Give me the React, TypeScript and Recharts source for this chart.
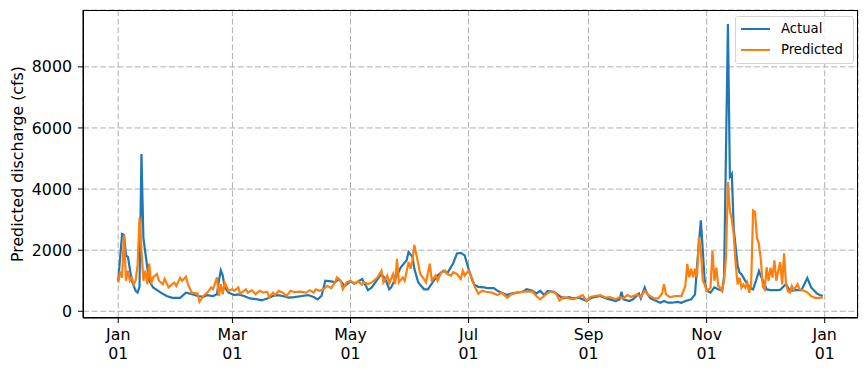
import { LineChart, Line, XAxis, YAxis, CartesianGrid } from "recharts";

// [day of year (0 = Jan 01), discharge in cfs]
const actualSeries: [number, number][] = [
  [0, 1000], [2, 2530], [3, 2500], [4, 1830], [5, 1780], [7, 1000], [9, 670], [10, 610],
  [11, 800], [12, 5150], [13, 2400], [15, 1440], [16, 1000], [18, 780], [22, 610], [25, 500],
  [28, 440], [32, 440], [35, 610], [37, 580], [41, 500], [44, 470], [46, 530], [49, 500],
  [51, 555], [52, 1000], [53, 1340], [54, 1170], [55, 780], [57, 610], [60, 530], [62, 555],
  [65, 500], [68, 420], [72, 390], [74, 355], [77, 420], [80, 500], [82, 530], [85, 500],
  [88, 445], [91, 465], [95, 500], [98, 530], [101, 465], [103, 390], [105, 500], [107, 1000],
  [110, 980], [112, 945], [114, 1055], [117, 830], [120, 980], [122, 900], [126, 1055], [128, 830],
  [129, 690], [131, 780], [134, 1055], [136, 1220], [138, 1055], [140, 720], [141, 780], [144, 1170],
  [146, 1440], [149, 1670], [150, 1940], [152, 1780], [153, 1390], [155, 945], [158, 720], [160, 720],
  [163, 1000], [165, 1170], [168, 1330], [170, 1240], [173, 1560], [175, 1890], [177, 1910], [179, 1830],
  [181, 1390], [183, 1000], [184, 870], [186, 800], [189, 780], [191, 755], [194, 755], [196, 670],
  [198, 610], [201, 530], [203, 580], [206, 610], [209, 640], [211, 720], [214, 670], [216, 580],
  [218, 670], [220, 530], [222, 670], [225, 640], [228, 500], [230, 420], [233, 465], [235, 420],
  [238, 445], [240, 390], [242, 335], [244, 420], [246, 465], [249, 500], [252, 420], [254, 390],
  [257, 335], [259, 390], [260, 640], [261, 390], [264, 335], [266, 390], [269, 580], [270, 420],
  [272, 780], [273, 610], [275, 420], [278, 335], [280, 280], [282, 335], [284, 280], [286, 280],
  [289, 310], [291, 280], [293, 335], [296, 390], [298, 555], [299, 1440], [301, 2980], [302, 2000],
  [303, 1000], [304, 670], [306, 610], [308, 780], [310, 720], [312, 670], [313, 1150], [315, 9400],
  [316, 4400], [317, 4500], [318, 2700], [320, 1500], [321, 1265], [322, 1210], [323, 1100], [325, 880],
  [327, 750], [328, 715], [330, 1100], [331, 1320], [332, 1150], [334, 880], [335, 715], [337, 690],
  [340, 690], [342, 700], [345, 890], [347, 670], [350, 690], [353, 690], [356, 1090], [358, 780],
  [361, 580], [363, 520], [364, 500],
];

const predictedSeries: [number, number][] = [
  [0, 940], [1, 1300], [2, 1100], [3, 2500], [4, 1000], [5, 1330], [6, 1000], [7, 1110],
  [8, 890], [9, 1000], [10, 1500], [11, 3060], [12, 2000], [13, 1000], [14, 1330], [15, 890],
  [16, 1560], [17, 890], [18, 1110], [20, 1220], [21, 1000], [23, 890], [24, 1060], [26, 780],
  [28, 890], [29, 940], [30, 830], [32, 1090], [33, 1000], [35, 1130], [36, 890], [38, 610],
  [41, 580], [42, 310], [44, 500], [46, 610], [48, 780], [49, 720], [51, 1110], [52, 500],
  [53, 890], [54, 555], [55, 940], [57, 670], [59, 720], [60, 670], [62, 780], [63, 580],
  [66, 720], [67, 610], [69, 690], [71, 555], [73, 670], [75, 610], [77, 640], [78, 465],
  [80, 610], [81, 530], [83, 670], [85, 610], [87, 500], [89, 670], [91, 630], [94, 640],
  [97, 610], [99, 690], [101, 610], [102, 720], [104, 670], [106, 720], [108, 830], [110, 755],
  [112, 945], [113, 1110], [115, 1000], [116, 720], [118, 945], [120, 1000], [122, 910], [124, 980],
  [126, 870], [127, 945], [129, 890], [131, 945], [132, 1000], [134, 1110], [136, 1330], [137, 945],
  [139, 1170], [140, 910], [142, 1220], [143, 890], [144, 1720], [145, 945], [147, 1110], [148, 1000],
  [150, 1610], [151, 1390], [152, 1670], [153, 2170], [155, 1560], [156, 1220], [158, 1055], [159, 945],
  [161, 1560], [162, 1000], [164, 1170], [165, 1000], [167, 1280], [169, 1330], [170, 1220], [172, 1170],
  [173, 1280], [175, 1220], [177, 1055], [178, 1330], [179, 1170], [181, 1330], [183, 1055], [184, 830],
  [186, 580], [188, 670], [190, 640], [193, 610], [196, 530], [198, 610], [201, 445], [203, 555],
  [206, 610], [209, 640], [211, 640], [214, 640], [216, 500], [218, 390], [221, 555], [223, 640],
  [226, 610], [228, 355], [230, 465], [233, 420], [235, 390], [238, 465], [240, 530], [242, 335],
  [244, 470], [246, 500], [249, 530], [252, 445], [254, 465], [257, 390], [259, 465], [261, 420],
  [263, 530], [265, 465], [268, 555], [270, 465], [272, 670], [274, 530], [277, 420], [279, 420],
  [281, 580], [282, 890], [283, 555], [285, 465], [288, 500], [291, 500], [293, 830], [294, 1550],
  [295, 1110], [296, 1390], [297, 1110], [298, 1390], [299, 1110], [300, 2430], [301, 2000], [302, 1000],
  [303, 880], [304, 670], [305, 720], [306, 770], [307, 1980], [308, 1000], [309, 1430], [310, 830],
  [311, 770], [312, 660], [313, 1000], [314, 1780], [315, 4230], [316, 3300], [317, 3000], [318, 2500],
  [319, 1540], [320, 880], [321, 1100], [322, 770], [323, 880], [324, 770], [325, 935], [326, 605],
  [327, 880], [328, 3300], [329, 3250], [330, 2400], [331, 2200], [332, 1700], [333, 800], [334, 715],
  [335, 1440], [336, 1000], [337, 1430], [338, 1100], [339, 1670], [340, 1000], [341, 1320], [342, 1610],
  [343, 880], [344, 1900], [345, 900], [346, 660], [347, 610], [348, 825], [349, 700], [351, 890],
  [352, 720], [354, 680], [356, 620], [358, 495], [360, 440], [363, 440], [364, 470],
];

const monthTickDays = [0, 59, 120, 181, 243, 304, 365];
const monthTickNames = ["Jan", "Mar", "May", "Jul", "Sep", "Nov", "Jan"];
const cfsTicks = [0, 2000, 4000, 6000, 8000];

const FONT = "'DejaVu Sans', sans-serif";
const AXIS_FONT = 15.8;
const LEGEND_FONT = 13.2;
const BLUE = "#1f77b4";
const ORANGE = "#ff7f0e";

const actualData = actualSeries.map(([day, cfs]) => ({ day, cfs }));
const predictedData = predictedSeries.map(([day, cfs]) => ({ day, cfs }));

// two-line date label, drawn as two separate texts so they don't share a box
const MonthTick = (props: any) => {
  const { x, y, payload } = props;
  const i = monthTickDays.indexOf(payload.value);
  return (
    <g>
      <text x={x} y={y + 15} textAnchor="middle" fill="#000" fontSize={AXIS_FONT} fontFamily={FONT}>
        {monthTickNames[i]}
      </text>
      <text x={x} y={y + 33.5} textAnchor="middle" fill="#000" fontSize={AXIS_FONT} fontFamily={FONT}>
        01
      </text>
    </g>
  );
};

const YLabel = () => (
  <text
    x={17.5}
    y={164}
    transform="rotate(-90 17.5 164)"
    textAnchor="middle"
    dominantBaseline="central"
    fontSize={AXIS_FONT}
    fontFamily={FONT}
    fill="#000"
  >
    Predicted discharge (cfs)
  </text>
);

const LegendBox = () => (
  <div
    style={{
      position: "absolute",
      left: 735,
      top: 16,
      width: 117,
      height: 46,
      border: "1px solid #d5d5d5",
      borderRadius: 3,
      background: "rgba(255,255,255,0.8)",
      fontFamily: FONT,
      fontSize: LEGEND_FONT,
      color: "#000",
    }}
  >
    {[
      { name: "Actual", color: BLUE },
      { name: "Predicted", color: ORANGE },
    ].map((item, i) => (
      <div
        key={item.name}
        style={{ position: "absolute", left: 5, top: 2 + i * 20.5, height: 20, display: "flex", alignItems: "center" }}
      >
        <span style={{ width: 29, height: 2, background: item.color, display: "inline-block" }} />
        <span style={{ marginLeft: 11, lineHeight: "20px" }}>{item.name}</span>
      </div>
    ))}
  </div>
);

export default function App() {
  return (
    <div style={{ position: "absolute", left: 0, top: 0, width: 867, height: 370, background: "#fff" }}>
      <LineChart width={867} height={370} margin={{ top: 10, right: 9, left: 0, bottom: 0 }}>
        <CartesianGrid stroke="#b0b0b0" strokeDasharray="6 2.6" strokeWidth={1} />
        <XAxis
          dataKey="day"
          type="number"
          domain={[-18.2, 382.2]}
          ticks={monthTickDays}
          allowDataOverflow
          height={52}
          stroke="#000"
          tickSize={5}
          tickLine={{ stroke: "#000" }}
          tick={<MonthTick />}
        />
        <YAxis
          type="number"
          domain={[-220, 9860]}
          ticks={cfsTicks}
          allowDataOverflow
          width={83}
          stroke="#000"
          tickSize={5}
          tickMargin={6}
          tick={{ fill: "#000", fontSize: AXIS_FONT, fontFamily: FONT }}
          label={{ content: () => <YLabel /> }}
        />
        <Line
          data={actualData}
          dataKey="cfs"
          name="Actual"
          stroke={BLUE}
          strokeWidth={2.2}
          dot={false}
          type="linear"
          isAnimationActive={false}
        />
        <Line
          data={predictedData}
          dataKey="cfs"
          name="Predicted"
          stroke={ORANGE}
          strokeWidth={2.2}
          dot={false}
          type="linear"
          isAnimationActive={false}
        />
      </LineChart>
      {/* plot frame: top and right spines */}
      <div
        style={{
          position: "absolute",
          left: 83,
          top: 10,
          width: 775,
          height: 308,
          boxSizing: "border-box",
          border: "1px solid #000",
          pointerEvents: "none",
        }}
      />
      <LegendBox />
    </div>
  );
}
